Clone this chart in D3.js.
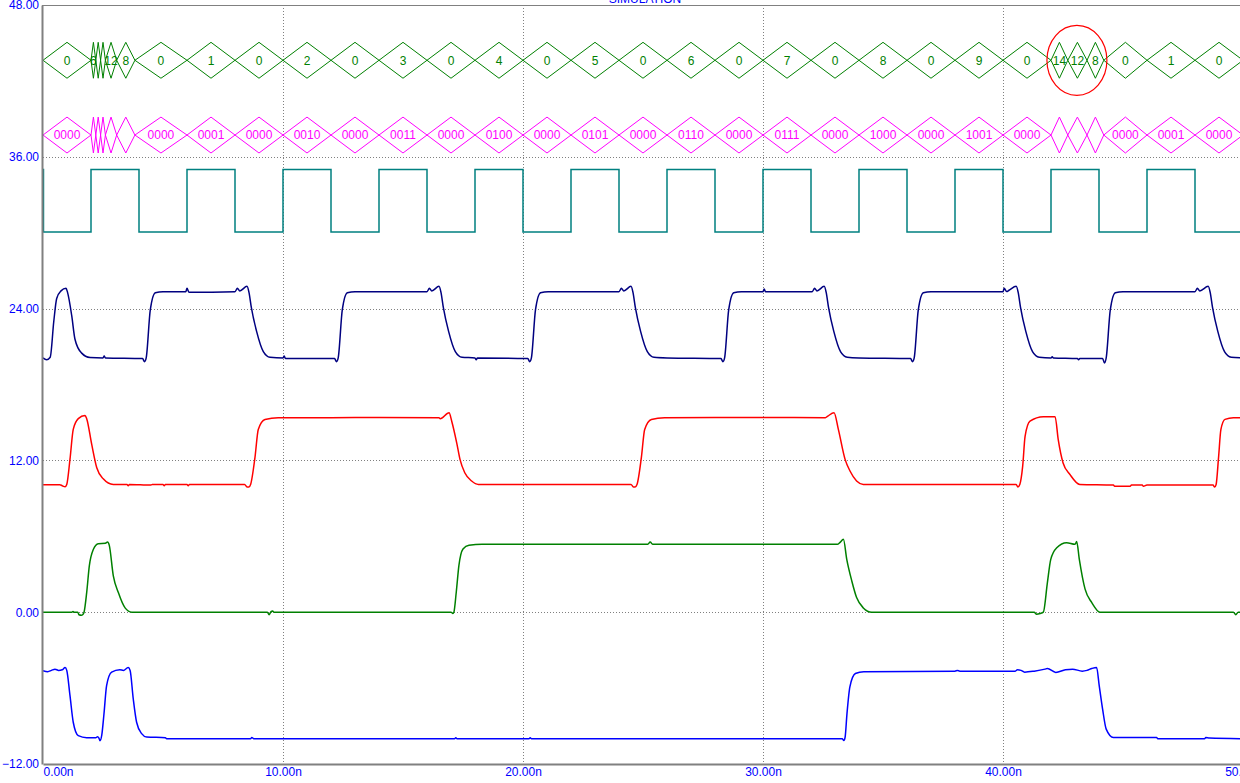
<!DOCTYPE html>
<html>
<head>
<meta charset="utf-8">
<title>Simulation</title>
<script src="https://cdn.jsdelivr.net/npm/d3@7"></script>
<style>
  html, body { margin: 0; padding: 0; background: #fff; }
  svg { display: block; font-family: "Liberation Sans", Arial, sans-serif; }
</style>
</head>
<body>
<div id="chart"></div>
<script>
// time axis (ns) and value axis ticks
const xTicks = [0, 10, 20, 30, 40, 50];
const yTicks = [-12, 0, 12, 24, 36, 48];

// bus: segment boundaries (ns) and the value held in each segment
const busTimes = [0, 2.0, 2.2, 2.4, 2.6, 3.07, 3.83, 6, 8, 10, 12, 14, 16, 18, 20, 22, 24, 26, 28, 30,
  32, 34, 36, 38, 40, 42, 42.7, 43.5, 44.2, 46, 48, 50];
const busValues = [0, 6, 14, 10, 12, 8, 0, 1, 0, 2, 0, 3, 0, 4, 0, 5, 0, 6, 0, 7,
  0, 8, 0, 9, 0, 14, 12, 8, 0, 1, 0];

// clock: [time, level]
const clock = [[0, 1], [0.02, 0], [2, 1], [4, 0], [6, 1], [8, 0], [8.05, 0], [10, 1], [10.05, 1], [12, 0],
  [14, 1], [16, 0], [18, 1], [20, 0], [22, 1], [24, 0], [26, 1], [28, 0], [30, 1], [32, 0],
  [34, 1], [36, 0], [38, 1], [40, 0], [42, 1], [44, 0], [46, 1], [48, 0], [50, 0]];
const clockLevels = [30.05, 35.0];

// analog outputs: [time ns, value]
const navyTrace = [[0, 20.1], [0.15, 19.95], [0.3, 20.15], [0.45, 23.0], [0.57, 24.8], [0.75, 25.4], [0.96, 25.6],
  [1.02, 25.3], [1.2, 23.4], [1.33, 21.6], [1.6, 20.5], [1.96, 20.13], [2.5, 20.1], [2.55, 20.25], [2.6, 20.1],
  [4.15, 20.05], [4.23, 19.8], [4.3, 20.1], [4.47, 23.9], [4.68, 25.26], [5.0, 25.34],
  [5.95, 25.34], [6.0, 25.6], [6.08, 25.3], [8.0, 25.34], [8.1, 25.6], [8.2, 25.4], [8.5, 25.76], [8.58, 25.3],
  [8.68, 24.1], [8.9, 22.2], [9.18, 20.6], [9.46, 20.15], [10.0, 20.1], [10.05, 20.25], [10.1, 20.05],
  [12.15, 20.05], [12.23, 19.8], [12.3, 20.1], [12.47, 23.9], [12.68, 25.26], [13.0, 25.34],
  [16.0, 25.34], [16.1, 25.6], [16.2, 25.4], [16.5, 25.76], [16.58, 25.3], [16.68, 24.1], [16.9, 22.2],
  [17.18, 20.6], [17.46, 20.15], [18.0, 20.1], [18.05, 19.95], [18.1, 20.1],
  [20.2, 20.05], [20.28, 19.8], [20.35, 20.1], [20.52, 23.9], [20.73, 25.26], [21.05, 25.34],
  [24.0, 25.34], [24.1, 25.6], [24.2, 25.4], [24.5, 25.76], [24.58, 25.3], [24.68, 24.1], [24.9, 22.2],
  [25.18, 20.6], [25.46, 20.15], [26.0, 20.1],
  [28.25, 20.05], [28.33, 19.8], [28.4, 20.1], [28.57, 23.9], [28.78, 25.26], [29.1, 25.34],
  [30.0, 25.34], [30.05, 25.55], [30.1, 25.34], [32.05, 25.34], [32.15, 25.6], [32.25, 25.4], [32.55, 25.76],
  [32.63, 25.3], [32.73, 24.1], [32.95, 22.2], [33.23, 20.6], [33.51, 20.15], [34.0, 20.1],
  [36.15, 20.05], [36.23, 19.8], [36.3, 20.1], [36.47, 23.9], [36.68, 25.26], [37.0, 25.34],
  [40.0, 25.34], [40.05, 25.6], [40.15, 25.35], [40.25, 25.45], [40.55, 25.76], [40.63, 25.3], [40.73, 24.1],
  [40.95, 22.2], [41.23, 20.6], [41.51, 20.15], [42.0, 20.1], [42.05, 20.2], [42.1, 20.1], [43.1, 20.05],
  [43.15, 19.95], [43.2, 20.05],
  [44.15, 20.05], [44.23, 19.7], [44.3, 20.1], [44.47, 23.9], [44.68, 25.26], [45.0, 25.34],
  [48.0, 25.34], [48.1, 25.6], [48.2, 25.4], [48.55, 25.76], [48.63, 25.3], [48.73, 24.1], [48.95, 22.2],
  [49.23, 20.6], [49.51, 20.15], [50, 20.1]];

const redTrace = [[0, 10.08], [0.7, 10.08], [0.8, 10.0], [0.92, 9.92], [0.99, 10.1], [1.125, 12.1], [1.26, 14.45],
  [1.47, 15.3], [1.75, 15.55], [1.82, 15.3], [2.03, 13.26], [2.24, 11.42], [2.51, 10.55], [2.93, 10.1],
  [3.5, 10.1], [3.55, 10.0], [3.6, 10.1], [4.5, 10.05], [4.55, 10.1], [5.0, 10.1], [5.05, 10.0], [5.1, 10.1],
  [6.0, 10.1], [6.05, 10.0], [6.1, 10.1],
  [8.4, 10.1], [8.5, 9.9], [8.58, 9.9], [8.65, 10.1], [8.83, 12.2], [8.97, 14.45], [9.25, 15.24], [9.8, 15.37],
  [12.0, 15.37], [14.0, 15.4], [16.5, 15.37], [16.55, 15.3], [16.92, 15.77], [17.03, 15.1], [17.24, 13.37],
  [17.375, 12.08], [17.58, 11.0], [17.86, 10.37], [18.14, 10.1],
  [24.5, 10.1], [24.6, 9.9], [24.67, 9.9], [24.75, 10.1], [24.93, 12.2], [25.07, 14.45], [25.35, 15.24], [25.9, 15.37],
  [28.0, 15.4], [30.0, 15.4], [32.6, 15.37], [32.7, 15.5], [32.96, 15.77], [33.14, 14.45], [33.42, 12.08],
  [33.625, 11.16], [33.9, 10.37], [34.18, 10.1],
  [40.55, 10.1], [40.62, 9.9], [40.7, 10.1], [40.82, 11.55], [40.92, 13.9], [41.125, 15.1], [41.68, 15.45],
  [42.17, 15.45], [42.3, 13.66], [42.5, 11.82], [42.79, 10.89], [43.2, 10.1], [44.6, 10.05], [44.65, 9.95],
  [45.3, 9.95], [45.35, 10.05], [45.8, 10.05], [45.85, 9.95], [46.0, 10.05],
  [48.75, 10.05], [48.82, 9.9], [48.88, 10.1], [48.98, 12.2], [49.08, 14.45], [49.25, 15.24], [49.6, 15.37], [50, 15.37]];

const greenTrace = [[0, 0], [1.2, 0], [1.25, 0.05], [1.3, 0], [1.45, 0], [1.5, -0.2], [1.6, -0.24], [1.65, -0.2],
  [1.71, 0], [1.82, 1.55], [1.93, 3.66], [2.1, 4.97], [2.3, 5.42], [2.6, 5.45], [2.69, 5.55], [2.76, 5.3],
  [2.93, 2.87], [3.14, 1.55], [3.42, 0.34], [3.7, 0],
  [9.35, 0], [9.42, -0.2], [9.5, 0.05], [9.57, 0.1], [9.62, 0],
  [17.0, 0], [17.08, -0.1], [17.12, 0], [17.22, 1.6], [17.33, 3.7], [17.5, 5.0], [17.75, 5.3], [18.3, 5.37],
  [25.2, 5.37], [25.3, 5.55], [25.4, 5.37],
  [33.1, 5.37], [33.2, 5.5], [33.35, 5.76], [33.49, 4.18], [33.7, 2.47], [33.9, 1.16], [34.18, 0.34], [34.53, 0],
  [41.3, 0], [41.4, -0.16], [41.55, -0.1], [41.68, 0], [41.85, 2.34], [41.99, 4.18], [42.24, 5.1], [42.65, 5.5],
  [43.0, 5.37], [43.07, 5.58], [43.18, 4.18], [43.42, 1.82], [43.7, 0.76], [44.04, 0],
  [49.6, 0], [49.7, -0.2], [49.8, 0], [50, 0]];

const blueTrace = [[0, -4.63], [0.2, -4.7], [0.35, -4.6], [0.5, -4.5], [0.65, -4.6], [0.8, -4.55], [0.92, -4.37],
  [0.99, -4.6], [1.125, -6.6], [1.26, -8.7], [1.47, -9.76], [1.82, -9.92], [2.2, -9.92], [2.27, -9.85],
  [2.33, -9.95], [2.375, -10.16], [2.45, -9.7], [2.54, -8.05], [2.65, -5.8], [2.86, -4.74], [3.2, -4.55],
  [3.35, -4.6], [3.55, -4.37], [3.63, -4.6], [3.76, -6.84], [3.9, -8.7], [4.11, -9.6], [4.32, -9.87],
  [5.1, -9.92], [5.15, -10.0], [8.65, -10.0], [8.7, -9.9], [8.78, -10.0],
  [17.15, -10.0], [17.2, -9.92], [17.25, -10.0], [20.25, -10.0], [20.3, -9.92], [20.35, -10.0],
  [33.3, -10.0], [33.37, -10.15], [33.42, -9.9], [33.5, -8.0], [33.62, -5.9], [33.85, -4.85], [34.2, -4.7],
  [38.0, -4.66], [38.1, -4.6], [38.2, -4.66], [40.5, -4.66], [40.6, -4.55], [40.75, -4.6], [40.9, -4.74],
  [41.3, -4.66], [41.75, -4.5], [41.85, -4.45], [42.2, -4.76], [42.6, -4.55], [42.9, -4.5], [43.3, -4.66],
  [43.5, -4.6], [43.7, -4.45], [43.9, -4.37], [44.01, -5.82], [44.15, -7.66], [44.3, -9.24], [44.6, -9.9],
  [46.4, -9.9], [46.45, -10.0], [48.4, -10.0], [48.45, -9.9], [48.6, -9.95], [50, -10.0]];

(function () {
  'use strict';

  const width = 1240, height = 783;
  const gray = '#808080';

  const x = d3.scaleLinear().domain([0, 50]).range([43, 1243]);
  const y = d3.scaleLinear().domain([-12, 48]).range([764, 5]);

  const svg = d3.select('#chart').append('svg')
    .attr('width', width)
    .attr('height', height);

  // clipped title at the very top
  svg.append('text')
    .attr('x', 645).attr('y', 3)
    .attr('text-anchor', 'middle')
    .attr('font-size', 12)
    .attr('fill', '#0000ff')
    .text('SIMULATION');

  // dotted grid
  const grid = svg.append('g').attr('stroke', gray).attr('stroke-dasharray', '1,2').attr('stroke-width', 1);
  grid.selectAll('.hg').data(yTicks.slice(1, -1)).join('line')
    .attr('x1', x(0)).attr('x2', width)
    .attr('y1', d => Math.round(y(d)) + 0.5).attr('y2', d => Math.round(y(d)) + 0.5);
  grid.selectAll('.vg').data(xTicks.slice(1, -1)).join('line')
    .attr('y1', y(48)).attr('y2', y(-12))
    .attr('x1', d => Math.round(x(d)) + 0.5).attr('x2', d => Math.round(x(d)) + 0.5);

  // buses drawn as diamonds
  const segs = busValues.map((v, i) => ({ v: v, t0: busTimes[i], t1: busTimes[i + 1] }));
  const busRows = [
    { center: 43.63, half: 1.42, color: '#008000', fmt: v => String(v) },
    { center: 37.72, half: 1.42, color: '#ff00ff', fmt: v => v.toString(2).padStart(4, '0') }
  ];

  busRows.forEach(row => {
    const g = svg.append('g');
    const yc = y(row.center), yt = y(row.center + row.half), yb = y(row.center - row.half);
    g.selectAll('path').data(segs).join('path')
      .attr('fill', 'none')
      .attr('stroke', row.color)
      .attr('stroke-width', 1)
      .attr('d', d => {
        const a = x(d.t0), b = x(d.t1), m = (a + b) / 2;
        return `M${a},${yc}L${m},${yt}L${b},${yc}L${m},${yb}Z`;
      });
    g.selectAll('text').data(segs).join('text')
      .attr('x', d => (x(d.t0) + x(d.t1)) / 2)
      .attr('y', yc)
      .attr('dy', '0.36em')
      .attr('text-anchor', 'middle')
      .attr('font-size', 12)
      .attr('fill', row.color)
      .text(d => row.fmt(d.v))
      .each(function (d) {
        // the label is dropped when the diamond is too narrow for it
        const w = this.getComputedTextLength();
        if (x(d.t1) - x(d.t0) < w - 2.5) d3.select(this).remove();
      });
  });

  // clock
  svg.append('path')
    .datum(clock)
    .attr('fill', 'none')
    .attr('stroke', '#008080')
    .attr('stroke-width', 1.5)
    .attr('d', d3.line().curve(d3.curveStepAfter)
      .x(d => x(d[0])).y(d => y(clockLevels[d[1]])));

  // analog traces
  const traces = [
    { data: navyTrace, color: '#000080' },
    { data: redTrace, color: '#ff0000' },
    { data: greenTrace, color: '#008000' },
    { data: blueTrace, color: '#0000ff' }
  ];
  const line = d3.line().curve(d3.curveMonotoneX).x(d => x(d[0])).y(d => y(d[1]));
  svg.selectAll('.trace').data(traces).join('path')
    .attr('class', 'trace')
    .attr('fill', 'none')
    .attr('stroke', d => d.color)
    .attr('stroke-width', 1.5)
    .attr('d', d => line(d.data));

  // axes
  const yAxis = svg.append('g')
    .attr('transform', 'translate(42,0)')
    .call(d3.axisLeft(y).tickValues(yTicks).tickFormat(d3.format('.2f')).tickSize(0).tickPadding(3));
  const xAxis = svg.append('g')
    .attr('transform', 'translate(0,764)')
    .call(d3.axisBottom(x).tickValues(xTicks).tickFormat(d => d.toFixed(2) + 'n').tickSize(0).tickPadding(3));

  [yAxis, xAxis].forEach(ax => {
    ax.select('.domain').attr('stroke', gray).attr('stroke-width', 2);
    ax.selectAll('text').attr('fill', '#0000ff').attr('font-size', 12)
      .attr('font-family', '"Liberation Sans", Arial, sans-serif');
  });
  xAxis.selectAll('.tick text').filter(d => d === 0).attr('text-anchor', 'start');

  // top border of the plot
  svg.append('line')
    .attr('x1', 42).attr('x2', width)
    .attr('y1', 5.5).attr('y2', 5.5)
    .attr('stroke', gray).attr('stroke-width', 1);

  // highlight ring around the glitch
  const marks = [{ t: 43.08, v: 43.63 }];
  svg.selectAll('.mark').data(marks).join('ellipse')
    .attr('class', 'mark')
    .attr('cx', d => x(d.t)).attr('cy', d => y(d.v))
    .attr('rx', 30).attr('ry', 35)
    .attr('fill', 'none')
    .attr('stroke', '#ff0000')
    .attr('stroke-width', 1.2);
})();
</script>
</body>
</html>
